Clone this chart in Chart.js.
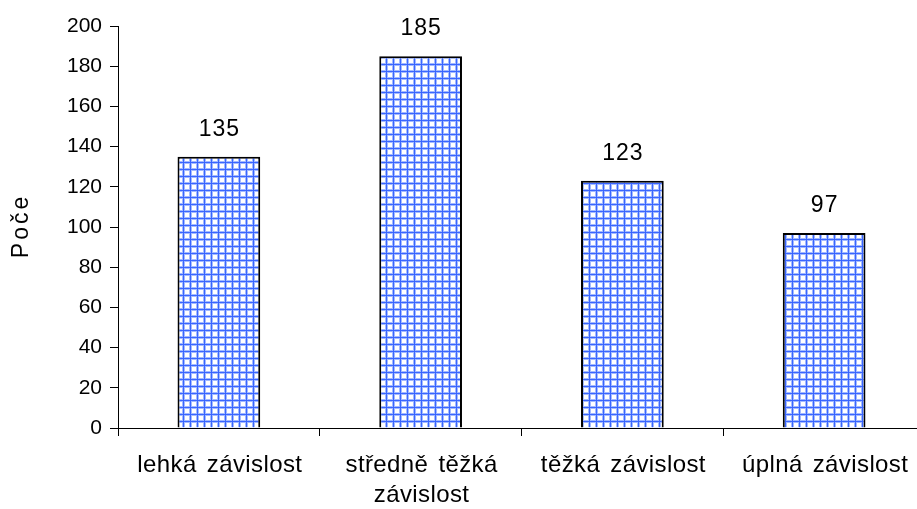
<!DOCTYPE html>
<html>
<head>
<meta charset="utf-8">
<script src="https://cdn.jsdelivr.net/npm/chart.js@4"></script>
<style>
body { margin:0; background:#fff; overflow:hidden; }
#wrap { width:925px; height:509px; }
</style>
</head>
<body>
<div id="wrap"><canvas id="chart" width="925" height="509"></canvas></div>
<script>
// data
const categories = [['lehká závislost'], ['středně těžká', 'závislost'], ['těžká závislost'], ['úplná závislost']];
const counts = [135, 185, 123, 97];
const yTicks = [0, 20, 40, 60, 80, 100, 120, 140, 160, 180, 200];
const yTitle = 'Poče';

const family = '"Liberation Sans", Arial, sans-serif';

// blue checked fill for the bars
function makePattern(){
  let c = document.createElement('canvas');
  c.width = 7; c.height = 7;
  let g = c.getContext('2d');
  g.fillStyle = '#ffffff';
  g.fillRect(0,0,7,7);
  g.fillStyle = '#a3baff';
  g.fillRect(0,0,3,7);
  g.fillRect(0,0,7,3);
  g.fillStyle = '#3a66ff';
  g.fillRect(1,0,1,7);
  g.fillRect(0,1,7,1);
  return g.createPattern(c, 'repeat');
}

// numbers above the bars, category names and the y title (wide lettering as in the original)
const textLayer = {
  id:'textLayer',
  afterDraw(chart){
    let ctx = chart.ctx;
    let meta = chart.getDatasetMeta(0);
    let xs = chart.scales.x;
    ctx.save();
    ctx.fillStyle = '#000';
    ctx.textAlign = 'center';
    ctx.textBaseline = 'alphabetic';

    ctx.font = '23px ' + family;
    ctx.letterSpacing = '1px';
    meta.data.forEach((bar, i) => {
      ctx.fillText(counts[i], bar.x + 0.5, bar.y - 21);
    });

    ctx.font = '24px ' + family;
    ctx.letterSpacing = '0.4px';
    ctx.wordSpacing = '3px';
    categories.forEach((lines, i) => {
      let x = xs.getPixelForValue(i) + 1;
      lines.forEach((t, j) => {
        ctx.fillText(t, x, xs.top + 44 + j * 30);
      });
    });

    ctx.font = '23px ' + family;
    ctx.letterSpacing = '3px';
    ctx.wordSpacing = '0px';
    ctx.translate(28, 226);
    ctx.rotate(-Math.PI / 2);
    ctx.fillText(yTitle, 0, 0);
    ctx.restore();
  }
};

new Chart(document.getElementById('chart'), {
  type:'bar',
  data:{
    labels:categories,
    datasets:[{
      data:counts,
      backgroundColor:makePattern(),
      borderColor:'#000',
      borderWidth:2,
      borderSkipped:'bottom',
      categoryPercentage:0.41,
      barPercentage:1
    }]
  },
  options:{
    responsive:false,
    animation:false,
    layout:{ padding:{ top:26, left:0, right:0, bottom:0 } },
    plugins:{ legend:{display:false}, tooltip:{enabled:false} },
    scales:{
      x:{
        offset:true,
        grid:{ offset:true, drawOnChartArea:false, tickLength:8, color:'#000' },
        border:{ color:'#000', width:1 },
        ticks:{ display:false },
        afterFit(scale){ scale.height = 81; }
      },
      y:{
        min:0, max:200,
        afterBuildTicks(scale){ scale.ticks = yTicks.map(v => ({value:v})); },
        grid:{ drawOnChartArea:false, tickLength:8, color:'#000' },
        border:{ color:'#000', width:1 },
        ticks:{ color:'#000', font:{ family:family, size:21 }, padding:8 },
        afterFit(scale){ scale.width = 118; }
      }
    }
  },
  plugins:[textLayer]
});
</script>
</body>
</html>
